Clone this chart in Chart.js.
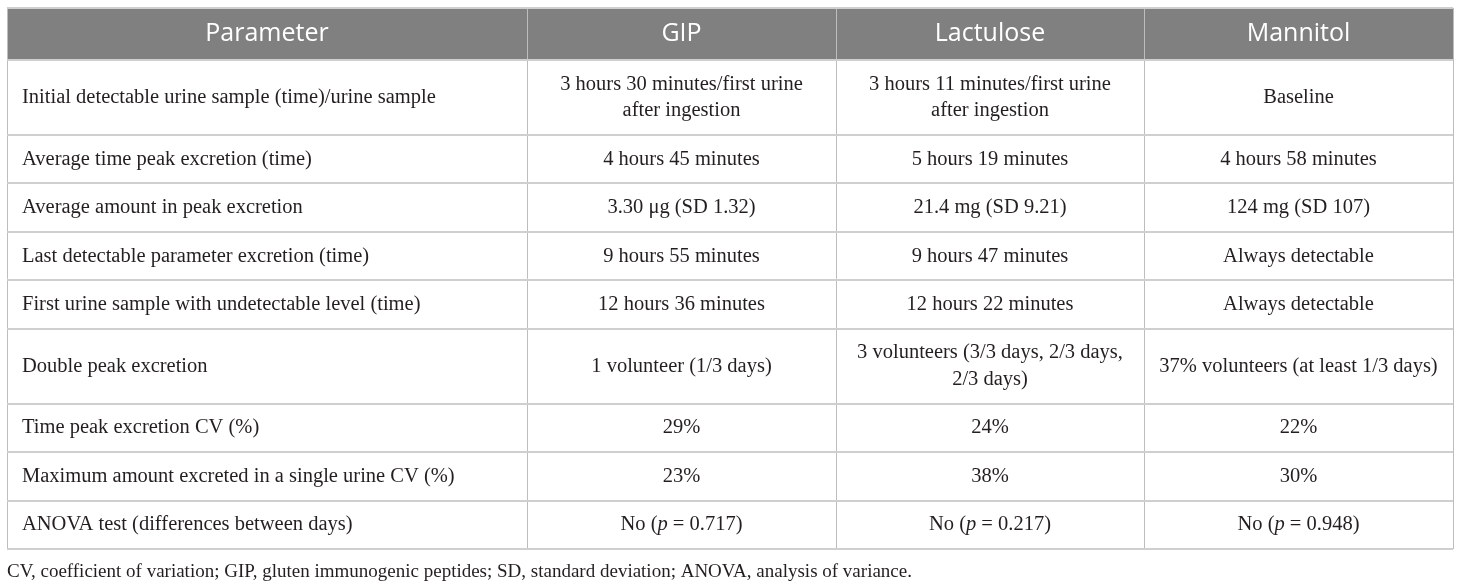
<!DOCTYPE html>
<html>
<head>
<meta charset="utf-8">
<script src="https://cdn.jsdelivr.net/npm/chart.js@4.4.0/dist/chart.umd.min.js"></script>
<style>
  html, body { margin: 0; padding: 0; background: #fff; }
  #wrap { width: 1460px; height: 587px; }
</style>
</head>
<body>
<div id="wrap"><canvas id="table"></canvas></div>
<script>
// table content
const headers = ['Parameter', 'GIP', 'Lactulose', 'Mannitol'];
const parameters = [
    'Initial detectable urine sample (time)/urine sample',
    'Average time peak excretion (time)',
    'Average amount in peak excretion',
    'Last detectable parameter excretion (time)',
    'First urine sample with undetectable level (time)',
    'Double peak excretion',
    'Time peak excretion CV (%)',
    'Maximum amount excreted in a single urine CV (%)',
    'ANOVA test (differences between days)'
];
const gip = [
    '3 hours 30 minutes/first urine\nafter ingestion',
    '4 hours 45 minutes',
    '3.30 μg (SD 1.32)',
    '9 hours 55 minutes',
    '12 hours 36 minutes',
    '1 volunteer (1/3 days)',
    '29%',
    '23%',
    'No (*p* = 0.717)'
];
const lactulose = [
    '3 hours 11 minutes/first urine\nafter ingestion',
    '5 hours 19 minutes',
    '21.4 mg (SD 9.21)',
    '9 hours 47 minutes',
    '12 hours 22 minutes',
    '3 volunteers (3/3 days, 2/3 days,\n2/3 days)',
    '24%',
    '38%',
    'No (*p* = 0.217)'
];
const mannitol = [
    'Baseline',
    '4 hours 58 minutes',
    '124 mg (SD 107)',
    'Always detectable',
    'Always detectable',
    '37% volunteers (at least 1/3 days)',
    '22%',
    '30%',
    'No (*p* = 0.948)'
];
const footnote = 'CV, coefficient of variation; GIP, gluten immunogenic peptides; SD, standard deviation; ANOVA, analysis of variance.';

// layout (scale units)
const colWidths = [520, 309, 308, 309];
const headerHeight = 52;
const rowBase = 22;
const lineStep = 26.5;

const columns = [parameters, gip, lactulose, mannitol];
const lineCount = (i) => Math.max(...columns.map(c => c[i].split('\n').length));

let colBounds = [0];
colWidths.forEach(w => colBounds.push(colBounds[colBounds.length - 1] + w));
let rowBounds = [0, headerHeight];
parameters.forEach((p, i) => rowBounds.push(rowBounds[rowBounds.length - 1] + rowBase + lineStep * lineCount(i)));

const totalW = colBounds[colBounds.length - 1];
const totalH = rowBounds[rowBounds.length - 1];

// one dataset per column, one point per cell (row 0 is the header)
const datasets = columns.map((col, c) => ({
    label: headers[c],
    data: [headers[c]].concat(col).map((txt, r) => ({
        x: (colBounds[c] + colBounds[c + 1]) / 2,
        y: (rowBounds[r] + rowBounds[r + 1]) / 2,
        text: txt,
        header: r === 0,
        col: c
    })),
    pointRadius: 0,
    pointHoverRadius: 0,
    showLine: false
}));

const serif = '"Liberation Serif", "DejaVu Serif", serif';
const sans = '"Open Sans", "Noto Sans", sans-serif';
const bodySize = 20.5;

// draws "a *b* c" with b in italics
function richText(ctx, str, x, y, size, align) {
    let parts = str.split('*');
    let widths = parts.map((p, i) => {
        ctx.font = (i % 2 ? 'italic ' : '') + size + 'px ' + serif;
        return ctx.measureText(p).width;
    });
    let total = widths.reduce((a, b) => a + b, 0);
    let cx = align === 'left' ? x : x - total / 2;
    ctx.textAlign = 'left';
    parts.forEach((p, i) => {
        ctx.font = (i % 2 ? 'italic ' : '') + size + 'px ' + serif;
        ctx.fillText(p, cx, y);
        cx += widths[i];
    });
}

const cellPlugin = {
    id: 'cells',
    beforeDraw(chart) {
        const {ctx, scales: {x, y}} = chart;
        ctx.save();
        ctx.fillStyle = '#7f807f';
        ctx.fillRect(x.getPixelForValue(0), y.getPixelForValue(0),
            x.getPixelForValue(totalW) - x.getPixelForValue(0),
            y.getPixelForValue(headerHeight) - y.getPixelForValue(0));
        ctx.restore();
    },
    afterDatasetsDraw(chart) {
        const {ctx, scales: {x}} = chart;
        ctx.save();
        ctx.textBaseline = 'middle';
        chart.data.datasets.forEach((ds, di) => {
            chart.getDatasetMeta(di).data.forEach((pt, i) => {
                let cell = ds.data[i];
                if (cell.header) {
                    ctx.font = '25px ' + sans;
                    ctx.fillStyle = '#ffffff';
                    ctx.textAlign = 'center';
                    ctx.fillText(cell.text, pt.x, pt.y);
                    return;
                }
                ctx.fillStyle = '#231f20';
                let lines = cell.text.split('\n');
                let left = cell.col === 0;
                let px = left ? x.getPixelForValue(colBounds[0]) + 15 : pt.x;
                lines.forEach((ln, k) => {
                    let ly = pt.y + (k - (lines.length - 1) / 2) * 26.5;
                    richText(ctx, ln, px, ly, bodySize, left ? 'left' : 'center');
                });
            });
        });
        ctx.restore();
    }
};

new Chart(document.getElementById('table'), {
    type: 'scatter',
    data: { datasets: datasets },
    options: {
        responsive: true,
        maintainAspectRatio: false,
        animation: false,
        events: [],
        layout: { padding: { left: 7, right: 7, top: 8, bottom: 0 } },
        scales: {
            x: {
                type: 'linear',
                min: 0,
                max: totalW,
                afterBuildTicks: (s) => { s.ticks = colBounds.map(v => ({value: v})); },
                ticks: { display: false },
                grid: { color: '#bdbdbd', lineWidth: 1, drawTicks: false },
                border: { display: false }
            },
            y: {
                type: 'linear',
                reverse: true,
                min: 0,
                max: totalH,
                afterBuildTicks: (s) => { s.ticks = rowBounds.map(v => ({value: v})); },
                ticks: { display: false },
                grid: { color: '#cfcfcf', lineWidth: 2, drawTicks: false },
                border: { display: false }
            }
        },
        plugins: {
            legend: { display: false },
            tooltip: { enabled: false },
            title: {
                display: true,
                text: footnote,
                position: 'bottom',
                align: 'start',
                color: '#231f20',
                font: { family: serif, size: 19, weight: 'normal', lineHeight: 1.2 },
                padding: { top: 11, bottom: 4 }
            }
        }
    },
    plugins: [cellPlugin]
});
</script>
</body>
</html>
